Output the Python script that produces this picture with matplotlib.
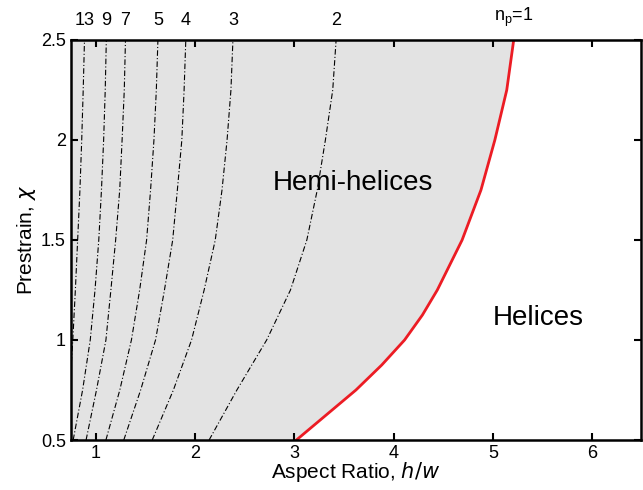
import numpy as np
import matplotlib.pyplot as plt

plt.rcParams['font.family'] = ['Liberation Sans', 'DejaVu Sans']

# prestrain levels where the curves were read
chi = [0.5, 0.75, 1.0, 1.25, 1.5, 1.75, 2.0, 2.25, 2.5]

# dash-dot curves: aspect ratio at each chi
np_labels = ['13', '9', '7', '5', '4', '3', '2']
np13 = [0.70, 0.735, 0.766, 0.792, 0.815, 0.838, 0.856, 0.871, 0.884]
np9 = [0.77, 0.865, 0.942, 0.99, 1.028, 1.055, 1.077, 1.093, 1.104]
np7 = [0.90, 1.005, 1.10, 1.15, 1.198, 1.239, 1.263, 1.285, 1.297]
np5 = [1.10, 1.24, 1.357, 1.44, 1.51, 1.55, 1.584, 1.608, 1.624]
np4 = [1.28, 1.45, 1.60, 1.69, 1.773, 1.82, 1.865, 1.888, 1.905]
np3 = [1.567, 1.78, 1.963, 2.09, 2.202, 2.27, 2.321, 2.36, 2.38]
np2 = [2.14, 2.42, 2.72, 2.96, 3.125, 3.23, 3.312, 3.386, 3.42]

# red boundary (n_p = 1)
red_chi = [0.5, 0.625, 0.75, 0.875, 1.0, 1.125, 1.25, 1.5, 1.75, 2.0, 2.25, 2.5]
red_x = [3.02, 3.32, 3.62, 3.88, 4.11, 4.29, 4.44, 4.69, 4.88, 5.02, 5.14, 5.21]

fig = plt.figure(figsize=(6.43, 4.9), dpi=100)
ax = fig.add_axes([70.7/643, 50/490, 570/643, 400/490])

# grey hemi-helix region
ax.fill_betweenx(red_chi, 0.5, red_x, color='#e3e3e3', lw=0)

curves = [np13, np9, np7, np5, np4, np3, np2]
for lab, xs in zip(np_labels, curves):
    ax.plot(xs, chi, color='black', lw=0.8, ls=(0, (5, 2, 1, 2)))
    ax.text(xs[-1], 2.555, lab, ha='center', va='bottom', fontsize=13)

ax.plot(red_x, red_chi, color='#ec1c24', lw=2)
ax.text(red_x[-1], 2.555, r'n$_\mathregular{p}$=1', ha='center', va='bottom', fontsize=13)

ax.text(3.59, 1.785, 'Hemi-helices', ha='center', va='center', fontsize=20)
ax.text(5.455, 1.11, 'Helices', ha='center', va='center', fontsize=20)

ax.set_xlim(0.745, 6.49)
ax.set_ylim(0.5, 2.5)
ax.set_xticks([1, 2, 3, 4, 5, 6])
ax.set_yticks([0.5, 1, 1.5, 2, 2.5])
ax.set_yticklabels(['0.5', '1', '1.5', '2', '2.5'])
ax.tick_params(direction='in', top=True, right=True, labelsize=13, width=1.5, length=5)
for s in ax.spines.values():
    s.set_linewidth(1.8)

ax.set_xlabel('Aspect Ratio, $h/w$', fontsize=15, labelpad=-1)
ax.set_ylabel(r'Prestrain, $\chi$', fontsize=15, labelpad=2)

fig.savefig('out.png', dpi=100)
